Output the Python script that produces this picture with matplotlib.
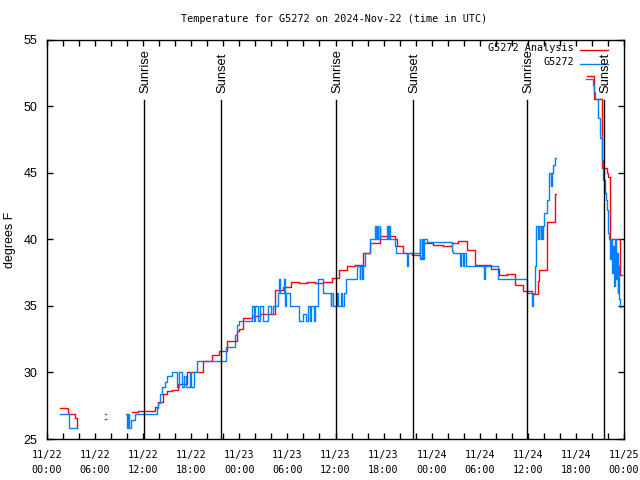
import numpy as np
import matplotlib
matplotlib.use("Agg")
import matplotlib.pyplot as plt
from matplotlib.ticker import MultipleLocator

nan = np.nan

# time in hours since 2024-11-22 00:00 UTC
analysis_t = [1.6, 2.6, 3.5, 3.75, 3.8,
              7.2, 7.35, 7.4,
              10.6, 11.4, 13.5, 13.9, 14.5, 15.0, 15.6, 16.3, 17.5, 19.5, 20.6, 21.5,
              22.5, 23.7, 23.9, 24.5, 25.6, 26.6, 28.5, 29.5, 30.5, 31.5, 32.5, 33.5,
              34.5, 35.6, 36.4, 37.4, 38.4, 39.4, 40.3, 41.6, 43.4, 43.7, 44.4, 45.5,
              46.5, 46.9, 48.2, 49.4, 50.5, 51.3, 52.4, 53.4, 55.4, 56.4, 57.4, 58.4,
              59.4, 60.5, 61.3, 61.4, 62.4, 63.4, 63.5,
              67.4, 68.3, 69.3, 69.9, 70.0, 70.2, 71.5, 71.7]
analysis_v = [27.3, 26.9, 26.6, 25.8, nan,
              26.5, 26.5, nan,
              27.0, 27.1, 27.4, 27.8, 28.4, 28.6, 28.7, 29.1, 30.0, 30.9, 31.3, 31.6,
              32.4, 33.1, 33.3, 34.1, 34.25, 34.4, 36.2, 36.4, 36.8, 36.7, 36.8, 36.7,
              36.8, 37.1, 37.7, 38.0, 38.1, 39.0, 39.7, 40.3, 40.0, 39.5, 39.0, 38.8,
              38.6, 39.7, 39.6, 39.5, 39.7, 39.9, 39.2, 38.1, 37.8, 37.3, 37.4, 36.6,
              36.1, 35.9, 36.9, 37.7, 41.3, 43.4, nan,
              52.3, 50.6, 45.4, 45.0, 44.7, 40.0, 37.3, 37.3]

obs_t = [1.6, 2.8, 3.6, 3.7,
         7.25, 7.35, 7.4,
         9.86, 9.95, 10.1, 10.2, 10.5, 11.0, 13.7, 13.9, 14.1, 14.4, 14.7, 15.0, 15.6,
         16.2, 16.5, 16.9, 17.1, 17.3, 17.8, 18.0, 18.3, 18.7, 22.3, 23.5, 23.7, 23.9,
         25.6, 25.8, 26.0, 26.3, 26.6, 27.0, 27.6, 27.9, 28.2, 28.8, 29.0, 29.1, 29.5,
         29.6, 29.7, 29.8, 30.3, 31.4, 32.0, 32.3, 32.6, 32.8, 33.0, 33.3, 33.5, 33.8,
         34.5, 35.4, 35.5, 35.7, 36.2, 36.3, 36.7, 36.8, 37.0, 37.3, 38.7, 39.0, 39.1,
         39.3, 39.4, 39.7, 40.3, 40.9, 41.0, 41.2, 41.3, 41.5, 41.6, 42.4, 42.6, 42.7,
         42.8, 43.4, 43.6, 44.9, 45.0, 46.5, 46.6, 46.75, 46.9, 47.0, 47.4, 50.5, 50.7,
         51.5, 51.6, 51.9, 52.0, 52.3, 54.5, 54.6, 56.3, 59.9, 60.3, 60.5, 60.7, 60.9,
         61.0, 61.3, 61.4, 61.6, 61.7, 61.8, 61.9, 62.0, 62.4, 62.6, 62.7, 62.9, 63.0,
         63.2, 63.4, 63.5,
         67.2, 68.1, 68.2, 68.4, 68.7, 69.0, 69.2, 69.4, 69.6, 69.8, 69.9, 70.0, 70.1,
         70.2, 70.4, 70.5, 70.6, 70.8, 70.9, 71.0, 71.1, 71.2, 71.3, 71.4, 71.5, 71.6]
obs_v = [26.9, 25.8, 25.8, nan,
         26.9, 26.9, nan,
         26.9, 25.8, 26.9, 25.8, 26.4, 26.9, 27.3, 27.7, 28.4, 28.9, 29.3, 29.7, 30.0,
         28.9, 30.0, 28.9, 29.7, 28.9, 30.0, 28.9, 30.0, 30.9, 31.9, 32.8, 33.6, 33.9,
         35.0, 33.9, 35.0, 33.9, 35.0, 33.9, 35.0, 34.4, 35.0, 36.0, 37.0, 36.0, 36.0,
         37.0, 35.0, 36.0, 35.0, 33.9, 34.4, 33.9, 35.0, 33.9, 35.0, 33.9, 35.0, 37.0,
         36.0, 35.0, 36.0, 35.0, 36.0, 35.0, 36.0, 35.0, 36.0, 37.0, 38.0, 37.0, 38.0,
         37.0, 38.0, 39.0, 40.0, 41.0, 40.0, 41.0, 40.0, 41.0, 40.0, 41.0, 40.0, 41.0,
         40.0, 39.5, 39.0, 38.0, 39.0, 40.0, 38.5, 40.0, 38.5, 40.0, 39.8, 39.1, 39.0,
         38.0, 39.0, 38.0, 39.0, 38.0, 37.0, 38.0, 37.0, 36.0, 36.0, 35.0, 36.0, 38.0,
         41.0, 40.0, 41.0, 40.0, 41.0, 40.0, 41.0, 42.0, 43.0, 44.0, 45.0, 44.0, 45.0,
         45.6, 46.1, nan,
         52.1, 51.6, 51.1, 50.6, 49.1, 47.6, 46.0, 44.5, 43.5, 43.0, 42.2, 40.5, 40.0,
         38.5, 40.0, 37.5, 39.5, 36.5, 40.0, 37.0, 39.0, 36.0, 38.0, 35.5, 34.9, 34.9]

sun_t = [12.1, 21.7, 36.07, 45.67, 59.9, 69.5]
sun_labels = ["Sunrise", "Sunset", "Sunrise", "Sunset", "Sunrise", "Sunset"]

xtick_pos = list(range(0, 73, 6))
xtick_labels = ["11/22\n00:00", "11/22\n06:00", "11/22\n12:00", "11/22\n18:00",
                "11/23\n00:00", "11/23\n06:00", "11/23\n12:00", "11/23\n18:00",
                "11/24\n00:00", "11/24\n06:00", "11/24\n12:00", "11/24\n18:00",
                "11/25\n00:00"]
yticks = [25, 30, 35, 40, 45, 50, 55]

title = "Temperature for G5272 on 2024-Nov-22 (time in UTC)"
legend_labels = ["G5272 Analysis", "G5272"]
colors = ["#ff0000", "#0080ff"]

mono = "DejaVu Sans Mono"
sans = "Liberation Sans"

fig = plt.figure(figsize=(6.4, 4.8), dpi=100)
ax = fig.add_axes([47/640, 1-439/480, 577/640, 399/480])

ax.plot(analysis_t, analysis_v, drawstyle="steps-post", color=colors[0], lw=1.0)
ax.plot(obs_t, obs_v, drawstyle="steps-post", color=colors[1], lw=1.0)

for t, lab in zip(sun_t, sun_labels):
    ax.plot([t, t], [25, 50.5], color="black", lw=1.0)
    ax.text(t + 0.15, 51.0, lab, rotation=90, ha="center", va="bottom",
            family=sans, fontsize=9.3)

ax.set_xlim(0, 72)
ax.set_ylim(25, 55)
ax.set_xticks(xtick_pos)
ax.set_xticklabels(xtick_labels, family=mono, fontsize=7.3)
ax.xaxis.set_minor_locator(MultipleLocator(2))
ax.set_yticks(yticks)
ax.set_yticklabels([str(v) for v in yticks], family=sans, fontsize=9)
for lbl in ax.get_xticklabels():
    lbl.set_linespacing(1.55)
ax.tick_params(axis="both", which="both", direction="in", top=True, right=True,
               length=4.5, width=1.0, color="black")
ax.tick_params(axis="x", which="major", pad=8)
ax.tick_params(axis="y", which="major", pad=7)
for s in ax.spines.values():
    s.set_linewidth(1.0)

# legend (key, top right inside)
ax.text(0.913, 0.980, legend_labels[0], transform=ax.transAxes, ha="right",
        va="center", family=mono, fontsize=7.3)
ax.text(0.913, 0.945, legend_labels[1], transform=ax.transAxes, ha="right",
        va="center", family=mono, fontsize=7.3)
ax.plot([0.924, 0.972], [0.976, 0.976], transform=ax.transAxes, color=colors[0], lw=1.0)
ax.plot([0.924, 0.972], [0.941, 0.941], transform=ax.transAxes, color=colors[1], lw=1.0)

fig.text(334/640, 1-19/480, title, ha="center", va="center", family=mono, fontsize=7.3)
fig.text(10/640, 1-240/480, "degrees F", rotation=90, ha="center", va="center",
         family=sans, fontsize=9)

fig.savefig("out.png", dpi=100)
